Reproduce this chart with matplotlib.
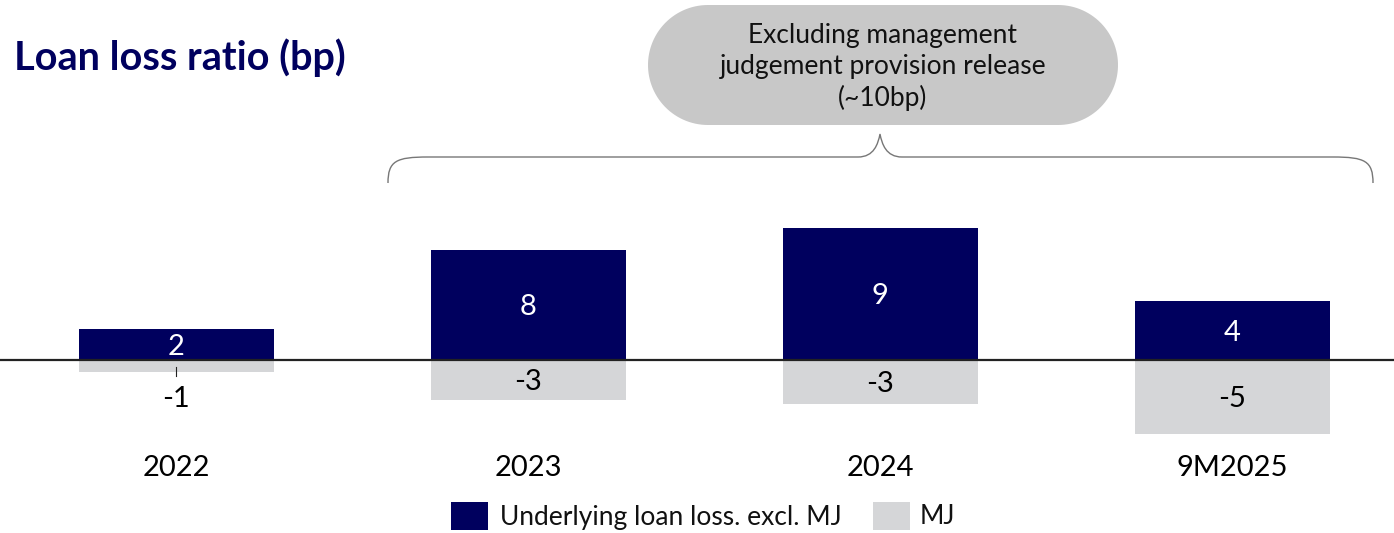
import matplotlib
matplotlib.use("Agg")
import matplotlib.pyplot as plt
from matplotlib.patches import PathPatch, Rectangle
from matplotlib.path import Path
import numpy as np

# ---- data ----
categories = ["2022", "2023", "2024", "9M2025"]
underlying = [2.1, 7.5, 9.0, 4.0]
mj = [-0.8, -2.7, -3.0, -5.0]
underlying_labels = ["2", "8", "9", "4"]
mj_labels = ["-1", "-3", "-3", "-5"]
series_names = ["Underlying loan loss. excl. MJ", "MJ"]
title = "Loan loss ratio (bp)"
callout_text = "Excluding management\njudgement provision release\n(~10bp)"

NAVY = "#00005E"
GRAY = "#D5D6D8"
PILL = "#C8C8C8"
FONT = "Lato"

W, H = 1394, 533
fig = plt.figure(figsize=(W / 100, H / 100), dpi=100)
fig.patch.set_facecolor("white")

def fx(px):
    return px / W

def fy(py):
    return 1 - py / H

ax = fig.add_axes([0, 0, 1, 1])
ax.set_axis_off()
unit_x = 352.0
unit_y = 14.7
base_px = 360
ax.set_xlim(-176 / unit_x, (W - 176) / unit_x)
ax.set_ylim(-(H - base_px) / unit_y, base_px / unit_y)

x = list(range(len(categories)))
bw = 195 / unit_x
ax.bar(x, underlying, width=bw, color=NAVY, zorder=2)
ax.bar(x, mj, width=bw, color=GRAY, zorder=1)
ax.axhline(0, color="#222222", lw=1.6, zorder=3)

LBL = 21
for i in x:
    ax.text(i, underlying[i] / 2 - 0.15, underlying_labels[i], color="white",
            ha="center", va="center", fontsize=LBL, family=FONT, zorder=4)
    if abs(mj[i]) < 1.5:
        ax.plot([i, i], [-0.45, -1.1], color="#222222", lw=0.8, zorder=4)
        ax.text(i, -2.65, mj_labels[i], color="black", ha="center", va="center",
                fontsize=LBL, family=FONT, zorder=4)
    else:
        ax.text(i, mj[i] / 2 - 0.15, mj_labels[i], color="black", ha="center",
                va="center", fontsize=LBL, family=FONT, zorder=4)
    ax.text(i, -7.35, categories[i], color="black", ha="center", va="center",
            fontsize=LBL, family=FONT)

# title
fig.text(fx(14), fy(58), title, color=NAVY, fontsize=28.5, fontweight="bold",
         family=FONT, ha="left", va="center")

# callout pill (stadium shape)
pill_l, pill_r, pill_t, pill_b = 648, 1118, 5, 125
r = (pill_b - pill_t) / 2
th = np.linspace(-np.pi / 2, np.pi / 2, 60)
cx_r, cx_l, cy = pill_r - r, pill_l + r, (pill_t + pill_b) / 2
pts = [(cx_r + r * np.cos(t), cy - r * np.sin(t)) for t in th]
pts += [(cx_l - r * np.cos(t), cy + r * np.sin(t)) for t in th]
pts = [(fx(a), fy(b)) for a, b in pts]
stadium = plt.Polygon(pts, closed=True, transform=fig.transFigure,
                      facecolor=PILL, edgecolor="none")
fig.add_artist(stadium)
fig.text(fx(883), fy(67), callout_text, ha="center", va="center",
         fontsize=19, family=FONT, color="#111111", linespacing=1.3)

# brace
bl, br, btop, bend, tipx, tipy = 388, 1373, 157, 183, 880, 134
verts = [
    (bl, bend),
    (bl, btop + 4), (bl + 8, btop), (bl + 40, btop),
    (tipx - 22, btop),
    (tipx - 6, btop), (tipx - 2, tipy + 10), (tipx, tipy),
    (tipx + 2, tipy + 10), (tipx + 6, btop), (tipx + 22, btop),
    (br - 40, btop),
    (br - 8, btop), (br, btop + 4), (br, bend),
]
codes = [Path.MOVETO,
         Path.CURVE4, Path.CURVE4, Path.CURVE4,
         Path.LINETO,
         Path.CURVE4, Path.CURVE4, Path.CURVE4,
         Path.CURVE4, Path.CURVE4, Path.CURVE4,
         Path.LINETO,
         Path.CURVE4, Path.CURVE4, Path.CURVE4]
verts = [(fx(a), fy(b)) for a, b in verts]
brace = PathPatch(Path(verts, codes), transform=fig.transFigure,
                  facecolor="none", edgecolor="#777777", lw=1.0)
fig.add_artist(brace)

# legend
leg_items = [(451, 488, NAVY, series_names[0], 500),
             (873, 910, GRAY, series_names[1], 920)]
for l, rr, c, lab, tx in leg_items:
    fig.add_artist(Rectangle((fx(l), fy(530)), fx(rr - l), (530 - 502) / H,
                             transform=fig.transFigure, facecolor=c,
                             edgecolor="none"))
    fig.text(fx(tx), fy(517), lab, ha="left", va="center", fontsize=19,
             family=FONT, color="#111111")

fig.savefig("out.png", dpi=100, facecolor="white")
